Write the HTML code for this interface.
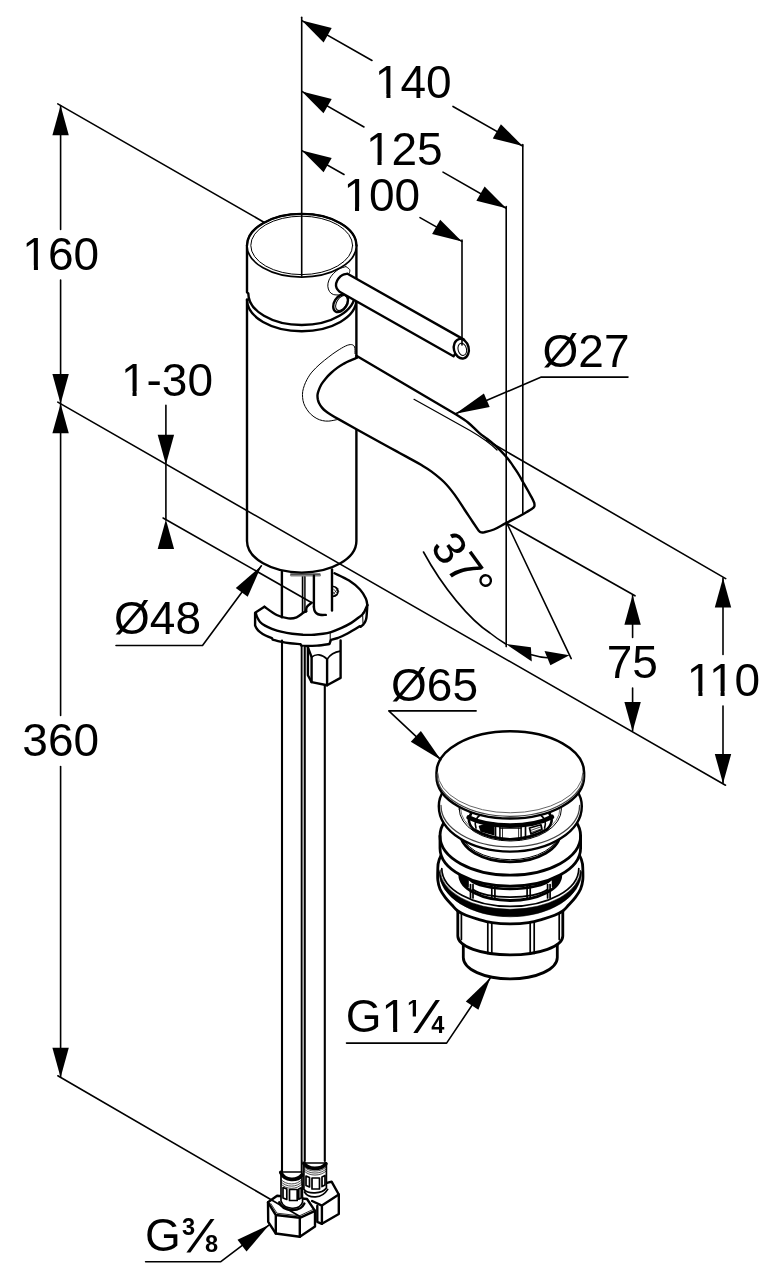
<!DOCTYPE html>
<html><head><meta charset="utf-8"><title>Drawing</title>
<style>html,body{margin:0;padding:0;background:#fff}svg{display:block;filter:grayscale(1)}text{font-family:"Liberation Sans",sans-serif;font-size:46px;fill:#000;stroke:none}</style>
</head><body>
<svg width="770" height="1274" viewBox="0 0 770 1274" fill="none" stroke="#000" stroke-linecap="round" stroke-linejoin="round">
<rect x="0" y="0" width="770" height="1274" fill="#fff" stroke="none"/>
<g id="faucet">
<path d="M247.0,299.6 L247.0,541 A54.7,31.6 0 0 0 356.4,541 L356.4,299.6 Z" stroke-width="2.4" fill="#fff" />
<path d="M247.0,299.6 A54.7,31.6 0 0 0 356.4,299.6" stroke-width="2.4" fill="none" />
<path d="M355.0,353.6 C354.9,352.5 355.2,348.5 354.6,347.0 C354.0,345.5 353.0,344.8 351.5,344.6 C350.0,344.4 348.0,344.9 345.6,346.0 C343.2,347.1 339.8,349.2 337.0,351.0 C334.2,352.8 331.6,354.7 328.8,356.9 C326.0,359.1 322.8,361.5 320.0,364.0 C317.2,366.5 314.1,369.5 311.9,372.1 C309.7,374.7 308.3,377.2 307.0,379.5 C305.7,381.8 305.0,383.6 304.3,385.6 C303.6,387.6 303.0,389.5 302.7,391.5 C302.4,393.5 302.4,395.5 302.6,397.5 C302.8,399.5 303.1,401.5 303.8,403.5 C304.5,405.5 305.6,407.4 306.8,409.3 C308.0,411.2 309.5,413.1 311.2,414.6 C312.9,416.2 315.0,417.6 316.9,418.6 C318.8,419.6 320.5,420.2 322.5,420.6 C324.5,421.0 326.2,421.3 328.8,421.1 C331.4,420.9 336.6,419.7 338.1,419.4 " stroke-width="1.0" fill="none" />
<path d="M356.4,355.8 L455.3,414 C457.4,415.4 464.0,419.3 468.0,422.5 C472.0,425.7 476.2,430.4 479.4,433.1 C482.6,435.8 484.6,436.9 487.0,438.8 C489.4,440.7 491.6,442.5 493.9,444.5 C496.1,446.5 498.4,448.5 500.5,450.6 C502.6,452.7 504.7,455.0 506.4,457.0 C508.1,459.0 509.4,460.7 510.8,462.6 C512.2,464.5 513.3,466.3 514.7,468.4 C516.1,470.5 517.6,472.7 519.0,475.0 C520.4,477.3 521.5,479.4 523.0,482.0 C524.5,484.6 526.5,488.0 528.0,490.8 C529.5,493.6 531.2,496.6 532.3,498.6 C533.3,500.6 534.0,502.3 534.3,503.0 C534.3,503.6 534.8,505.4 534.3,506.5 C533.8,507.6 533.2,508.0 531.3,509.3 C529.4,510.6 527.1,511.9 523.0,514.2 C518.9,516.5 511.2,520.4 506.4,522.9 C501.5,525.4 497.6,527.9 493.9,529.5 C490.2,531.1 486.2,531.8 484.0,532.3 C481.8,532.8 481.4,532.6 480.5,532.2 C479.6,531.9 478.7,530.5 478.3,530.2 C477.4,528.9 475.4,525.9 473.1,522.5 C470.9,519.1 467.9,514.7 464.8,510.0 C461.7,505.3 457.9,499.1 454.4,494.4 C450.9,489.7 447.8,485.8 444.0,482.0 C440.2,478.2 435.4,474.5 431.6,471.6 C427.8,468.7 424.5,466.9 421.0,464.8 C417.5,462.7 414.3,461.0 410.8,459.1 C407.3,457.2 403.5,455.1 400.0,453.2 C396.5,451.3 395.0,450.5 390.0,447.8 C385.0,445.1 378.5,441.5 370.0,436.8 C361.5,432.1 344.1,422.3 338.9,419.4 C337.5,418.6 332.7,415.8 330.5,414.4 C328.3,413.0 326.9,412.1 325.5,411.0 C324.1,409.9 323.1,408.9 322.0,407.6 C320.9,406.3 319.7,404.4 319.0,403.0 C318.3,401.6 318.1,400.5 317.8,399.2 C317.6,397.9 317.4,396.4 317.5,395.0 C317.6,393.6 318.0,392.4 318.6,390.7 C319.2,388.9 320.2,386.5 321.3,384.5 C322.4,382.5 323.8,380.8 325.4,378.9 C327.0,377.0 329.0,374.8 331.0,373.0 C333.0,371.2 335.0,369.5 337.2,367.9 C339.4,366.3 341.8,364.9 344.0,363.6 C346.2,362.3 348.5,361.3 350.7,360.3 C352.9,359.3 356.1,358.1 357.2,357.6 Z" stroke-width="2.4" fill="#fff" />
<path d="M414,399.3 L470,430.5 C482,437.5 490,443 497,450" stroke-width="1.25" fill="none" />
<path d="M247.0,245.5 L247.0,292.3 L248.3,293.4 A53.400000000000006,31.6 0 0 0 355.09999999999997,293.4 L356.4,292.3 L356.4,245.5 Z" stroke-width="2.4" fill="#fff" />
<ellipse cx="301.7" cy="245.5" rx="54.7" ry="31.6" stroke-width="1.7" fill="#fff"/>
<path d="M247.0,245.5 A54.7,31.6 0 0 1 356.4,245.5" stroke-width="2.4" fill="none" />
<ellipse cx="301.7" cy="245.4" rx="50.900000000000006" ry="29.200000000000003" stroke-width="1.0" fill="none"/>
<path d="M345.9,266.6 C346.5,267.1 349.0,268.4 349.6,269.5 C350.2,270.6 349.4,272.4 349.4,273.0 " stroke-width="1.0" fill="none" />
<path d="M345.9,266.6 C344.8,267.0 341.1,267.8 339.0,269.0 C336.9,270.2 335.0,271.9 333.3,273.7 C331.6,275.5 329.9,277.9 329.0,280.0 C328.1,282.1 327.7,284.3 327.8,286.2 C327.9,288.1 328.6,290.1 329.5,291.5 C330.4,292.9 331.6,293.9 333.3,294.5 C335.1,295.1 338.9,294.9 340.0,295.0 " stroke-width="1.0" fill="none" />
<ellipse cx="340.6" cy="303.3" rx="6.3" ry="9.6" stroke-width="2.4" fill="#fff" transform="rotate(32 340.6 303.3)"/>
<ellipse cx="341.6" cy="303.0" rx="4.9" ry="8.2" stroke-width="1.0" fill="none" transform="rotate(32 341.6 303.0)"/>
<path d="M347.5,273.7 L464,339.6 L453.5,356.3 L339.6,291.8 C339.1,291.2 337.2,289.4 336.6,288.0 C336.0,286.6 335.8,285.1 336.1,283.5 C336.4,281.9 337.4,279.9 338.5,278.5 C339.6,277.1 341.0,275.8 342.5,275.0 C344.0,274.2 346.7,273.9 347.5,273.7 Z" stroke-width="2.4" fill="#fff" />
<ellipse cx="461.3" cy="348.7" rx="7.4" ry="9.9" stroke-width="2.4" fill="#fff" transform="rotate(-14 461.3 348.7)"/>
<ellipse cx="462.3" cy="349.3" rx="4.2" ry="6.2" stroke-width="1.0" fill="none" transform="rotate(-14 462.3 349.3)"/>
</g>
<g id="under">
<line x1="281.9" y1="571.7" x2="281.9" y2="617.3" stroke-width="2.4" />
<line x1="302.6" y1="576.4" x2="302.6" y2="613" stroke-width="1.7" />
<line x1="304.8" y1="576.4" x2="304.8" y2="612" stroke-width="1.7" />
<line x1="303.7" y1="577" x2="303.7" y2="612" stroke="#999" stroke-width="1.2"/>
<line x1="291" y1="575.3" x2="320" y2="575.3" stroke="#888" stroke-width="2.2"/>
<line x1="290.7" y1="574.0" x2="320" y2="574.0" stroke-width="1.0" />
<line x1="313.9" y1="575.8" x2="313.9" y2="606.8" stroke-width="2.4" />
<line x1="332" y1="569.5" x2="332" y2="610.5" stroke-width="2.4" />
<path d="M332.8,586.5 C339,586 340.5,596 332.8,596.3" stroke-width="1.7" fill="none" />
<path d="M333.5,589 L337.5,593.5 M333.5,592.5 L336,595.5 M335,587.5 L338.8,591.5 M338,588.5 L333.5,594" stroke-width="0.7" fill="none" />
<path d="M264.4,606.8 L255.1,612.7 L255.1,625.4 C255.4,626.0 256.2,627.9 257.0,629.0 C257.8,630.1 258.7,631.0 260.1,632.1 C261.5,633.2 263.5,634.5 265.5,635.5 C267.5,636.5 270.8,637.7 271.9,638.1 L272.6,639.6 C273.9,639.9 277.5,641.0 280.4,641.6 C283.3,642.2 286.6,642.8 290.0,643.2 C293.4,643.6 298.8,644.0 300.6,644.2 L301.2,645.6 L305.7,645.9 C307.6,645.9 313.1,645.9 317.0,645.6 C320.9,645.3 327.3,644.3 329.4,644.0 L331,639.8 L337.8,638 C339.0,637.5 342.8,635.9 345.0,634.8 C347.2,633.7 348.9,632.7 351.3,631.3 C353.8,629.9 358.3,627.1 359.7,626.2 L360.6,626.8 L363.3,624.6 C363.7,624.0 365.0,622.3 365.5,621.0 C366.0,619.7 366.2,619.6 366.5,617.0 C366.8,614.4 367.2,607.1 367.3,605.1 " stroke-width="2.4" fill="none" />
<path d="M367.3,605.1 C367.1,604.0 367.0,601.2 365.8,598.6 C364.6,596.0 362.8,592.5 360.0,589.5 C357.2,586.5 353.4,583.2 349.1,580.5 C344.9,577.8 336.9,574.4 334.5,573.2 " stroke-width="2.4" fill="none" />
<path d="M255.9,613.4 C256.1,614.1 256.6,616.1 257.3,617.5 C258.0,618.9 258.8,620.6 260.1,622.0 C261.4,623.4 263.0,624.5 265.0,625.6 C267.0,626.7 269.2,627.8 271.9,628.8 C274.6,629.8 277.6,630.9 281.0,631.7 C284.4,632.5 288.5,633.3 292.2,633.8 C295.9,634.3 299.3,634.6 303.0,634.8 C306.7,634.9 310.9,634.9 314.2,634.7 C317.5,634.5 320.2,634.2 323.0,633.8 C325.8,633.4 328.0,633.0 331.0,632.1 C334.0,631.2 337.6,629.7 341.0,628.2 C344.4,626.7 348.5,624.6 351.3,622.9 C354.1,621.2 356.0,619.5 358.0,618.0 C360.0,616.5 361.6,615.8 363.1,613.6 C364.7,611.5 366.6,606.5 367.3,605.1 " stroke-width="2.4" fill="none" />
<path d="M264.5,606.8 C266.5,608.2 272.7,613.1 276.7,615.0 C280.7,616.9 285.1,618.0 288.4,618.4 C291.7,618.8 294.1,618.3 296.6,617.3 C299.1,616.3 302.0,613.6 303.6,612.6 C305.2,611.6 305.9,611.4 306.3,611.2 " stroke-width="2.4" fill="none" />
<path d="M306.0,611.4 C306.2,610.6 306.0,608.2 307.0,606.8 C308.0,605.3 311.0,603.4 311.8,602.7 " stroke-width="2.4" fill="none" />
<path d="M313.9,606.8 C314.0,607.4 314.1,609.4 314.5,610.5 C314.9,611.6 315.5,612.5 316.4,613.2 C317.3,613.9 318.4,614.5 320.0,614.8 C321.6,615.1 324.8,614.9 325.8,614.9 " stroke-width="2.4" fill="none" />
<line x1="330.2" y1="633" x2="330.2" y2="643" stroke-width="1.0" />
<line x1="362.6" y1="613" x2="363" y2="623.5" stroke-width="1.0" />
<path d="M307.9,647 L307.9,675.3 L311.6,682.1 L327.1,685.2 L340.6,677.9 L340.6,640.5" stroke-width="2.4" fill="none" />
<path d="M307.9,647.3 L311.6,657.1 L311.6,682.1 M327.1,659.2 L327.1,685.2" stroke-width="2.4" fill="none" />
<path d="M311.6,657.1 C316,653.5 322,654 327.1,659.2 C330,655 335,652 340.2,651.2" stroke-width="1.7" fill="none" />
<line x1="282" y1="640.5" x2="282" y2="1172" stroke-width="2.1" />
<line x1="301.7" y1="645.5" x2="301.7" y2="1172" stroke-width="2.0" />
<line x1="304.8" y1="646.5" x2="304.8" y2="1161" stroke-width="2.0" />
<line x1="303.25" y1="647" x2="303.25" y2="1160" stroke="#aaa" stroke-width="1.2"/>
<line x1="324.8" y1="685" x2="324.8" y2="1161" stroke-width="2.1" />
</g>
<g id="bottom">
<path d="M327,1182.9 L331.6,1181.6 L338.8,1194.5 L338.8,1214 L321.9,1223.8 L317.3,1221.8 L317.3,1206" stroke-width="2.4" fill="#fff" />
<path d="M338.8,1194.5 L321.9,1205.6 L312.1,1201 M321.9,1205.6 L321.9,1223.8" stroke-width="2.4" fill="none" />
<path d="M303.9,1163 L303.9,1189.4 C308,1194.5 322,1194 326.4,1188 L326.4,1163 Z" stroke-width="1.7" fill="#fff" />
<path d="M303.9,1163.3 C308,1170 321,1170 325.8,1163.8" stroke-width="3.8" fill="none" />
<path d="M304.2,1167 C309,1172.5 321,1172.5 326,1167 M304.2,1169 C309,1174.5 321,1174.5 326,1169 M304.2,1171 C309,1176.5 321,1176.5 326,1171" stroke-width="0.7" fill="none" />
<path d="M306,1176 L309.5,1177.5 L309.5,1187 L306,1185.5 Z M312,1178 L319.5,1178 L319.5,1189 L312,1189 Z M322,1177 L325,1175.5 L325,1185 L322,1186.5 Z" stroke-width="1.7" fill="none" />
<path d="M304.4,1192 C309,1199 322,1199 327.7,1189.4" stroke-width="1.7" fill="none" />
<path d="M268,1202.3 L277.1,1195.8 L307,1199 L315,1210.8 L315,1226.4 L299.8,1236.8 L275.8,1233.5 L268.2,1221.8 Z" stroke-width="2.4" fill="#fff" />
<path d="M268,1202.3 L275.8,1215 L299.8,1217.8 L315,1210.8 M275.8,1215 L275.8,1233.5 M299.8,1217.8 L299.8,1236.8" stroke-width="2.4" fill="none" />
<path d="M270.8,1203.6 L277,1213.2 L299.5,1215.8 L312.8,1209.6" stroke-width="0.8" fill="none" />
<path d="M281,1172 L281,1201 C284,1210 300,1211 302.6,1202 L301.8,1172 Z" stroke-width="1.7" fill="#fff" />
<path d="M279.2,1202.3 C283,1212 300,1213 304.4,1203.6" stroke-width="2.4" fill="none" />
<path d="M280.8,1172.5 C285,1181.3 297,1181.3 302,1175" stroke-width="3.8" fill="none" />
<path d="M281,1179.5 C286,1185.5 297,1185.5 302,1179.5 M281,1181.7 C286,1187.7 297,1187.7 302,1181.7 M281,1183.9 C286,1189.9 297,1189.9 302,1183.9" stroke-width="0.7" fill="none" />
<path d="M283,1187.5 L286.8,1189 L286.8,1199.5 L283,1198 Z M289.5,1189.5 L297.2,1189.5 L297.2,1200.5 L289.5,1200.5 Z M298.8,1189 L301.2,1187.8 L301.2,1198 L298.8,1199.2 Z" stroke-width="1.7" fill="none" />
</g>
<g id="drain">
<path d="M463.3,938 L463.3,957.5 A47,21.4 0 0 0 557.3,957.5 L557.3,938 A47,21.4 0 0 0 463.3,938 Z" stroke-width="2.8" fill="#fff" />
<path d="M457.8,905 L457.8,935.9 A52.5,19 0 0 0 562.8,935.9 L562.8,905 A52.5,19 0 0 0 457.8,905 Z" stroke-width="2.8" fill="#fff" />
<line x1="487.8" y1="922.3" x2="487.8" y2="953.4" stroke-width="1.7" />
<line x1="491.8" y1="922.3" x2="491.8" y2="953.4" stroke-width="1.7" />
<line x1="530.2" y1="922.3" x2="530.2" y2="953.4" stroke-width="1.7" />
<line x1="534.2" y1="922.3" x2="534.2" y2="953.4" stroke-width="1.7" />
<line x1="461.4" y1="912" x2="461.4" y2="939.5" stroke-width="1.7" />
<line x1="559.2" y1="912" x2="559.2" y2="939.5" stroke-width="1.7" />
<path d="M437.8,868.0 C437.8,870.0 437.4,876.5 437.8,880.0 C438.2,883.5 438.8,886.1 440.0,889.0 C441.2,891.9 443.2,894.7 445.2,897.4 C447.2,900.1 449.9,902.7 452.0,905.0 C454.1,907.3 455.5,909.3 457.8,911.0 C460.1,912.7 462.8,914.0 466.0,915.3 C469.2,916.6 472.5,917.7 476.8,918.9 C481.1,920.1 486.4,921.8 492.0,922.6 C497.6,923.4 504.2,923.8 510.3,923.8 C516.4,923.8 523.0,923.4 528.6,922.6 C534.2,921.8 539.5,920.1 543.8,918.9 C548.1,917.7 551.4,916.6 554.6,915.3 C557.8,914.0 560.5,912.7 562.8,911.0 C565.1,909.3 566.5,907.3 568.6,905.0 C570.7,902.7 573.4,900.1 575.4,897.4 C577.4,894.7 579.4,891.9 580.6,889.0 C581.8,886.1 582.4,883.5 582.8,880.0 C583.2,876.5 582.8,870.0 582.8,868.0 A72.5,41 0 0 0 437.8,868 Z" stroke-width="2.8" fill="#fff" />
<path d="M439.0,872 A71.3,44.9 0 0 0 581.6,872 L580.3,870 A70,39.3 0 0 1 440.3,870 Z" stroke-width="0.5" fill="#000" />
<path d="M441.8,868.5 A68.5,38.0 0 0 0 578.8,868.5" stroke-width="1.7" fill="none" />
<path d="M459.8,875 A50.5,25.5 0 0 0 560.8,875 A50.5,25.5 0 0 0 459.8,875 Z" stroke-width="2.8" fill="#fff" />
<path d="M470,879.5 A42,13 0 0 0 550.6,879.5" stroke-width="2.8" fill="none" />
<path d="M473,889.5 A40,12 0 0 0 547.6,889.5" stroke-width="1.7" fill="none" />
<line x1="470.5" y1="884.5" x2="470.5" y2="898" stroke-width="1.7" />
<line x1="473" y1="884.5" x2="473" y2="898" stroke-width="1.7" />
<line x1="491.8" y1="884.5" x2="491.8" y2="898" stroke-width="1.7" />
<line x1="494.9" y1="884.5" x2="494.9" y2="898" stroke-width="1.7" />
<line x1="527.1" y1="884.5" x2="527.1" y2="898" stroke-width="1.7" />
<line x1="530.2" y1="884.5" x2="530.2" y2="898" stroke-width="1.7" />
<line x1="547.6" y1="884.5" x2="547.6" y2="898" stroke-width="1.7" />
<line x1="550.1" y1="884.5" x2="550.1" y2="898" stroke-width="1.7" />
<path d="M459.9,875 C461,880 464,884 468,886.5 L468,880 Z" stroke-width="1.7" fill="#000" />
<path d="M560.7,875 C559.6,880 556.6,884 552.6,886.5 L552.6,880 Z" stroke-width="1.7" fill="#000" />
<path d="M440.0,836 L440.0,848.2 A70.3,38 0 0 0 580.6,848.2 L580.6,836 A70.3,39.2 0 0 0 440.0,836 Z" stroke-width="2.8" fill="#fff" />
<path d="M440.0,836 A70.3,39.2 0 0 0 580.6,836" stroke-width="2.8" fill="none" />
<path d="M460.3,832.5 A50,29.3 0 0 0 560.3,832.5 Z" stroke-width="2.8" fill="#fff" />
<path d="M461.3,831.4 A49,28.3 0 0 0 559.3,831.4" stroke-width="1.0" fill="none" />
<path d="M438.8,806.2 A71.5,45.4 0 0 0 581.8,806.2 A71.5,42 0 0 0 438.8,806.2 Z" stroke-width="2.4" fill="#fff" />
<path d="M441.0,805.5 A69.3,41.4 0 0 0 579.6,805.5" stroke-width="1.3" fill="none" stroke="#444"/>
<path d="M459.2,809 A51.1,32 0 0 0 561.4,809 A51.1,29.8 0 0 0 459.2,809 Z" stroke-width="1.0" fill="#fff" />
<path d="M460.7,809 A49.6,30.3 0 0 0 559.9,809" stroke-width="1.0" fill="none" stroke="#777"/>
<path d="M471,813.7 C467.5,819 469,825 473.4,829.3 C482,834.5 496,839 510.3,839.4 C524.6,839 538.6,834.5 547.2,829.3 C551.6,825 553.1,819 549.6,813.7" stroke-width="2.8" fill="none" />
<path d="M476,828 C474,823 476,818 480,815" stroke-width="1.7" fill="none" />
<path d="M544.6,828 C546.6,823 544.6,818 540.6,815" stroke-width="1.7" fill="none" />
<line x1="499.9" y1="826" x2="499.9" y2="839" stroke-width="1.5" />
<line x1="521.1" y1="826" x2="521.1" y2="839" stroke-width="1.5" />
<line x1="495.5" y1="826" x2="495.5" y2="838.4" stroke-width="1.7" />
<line x1="525.5" y1="826" x2="525.5" y2="838.4" stroke-width="1.7" />
<line x1="502.5" y1="828" x2="502.5" y2="839" stroke-width="0.8" />
<line x1="518.6" y1="828" x2="518.6" y2="839" stroke-width="0.8" />
<line x1="500" y1="828.2" x2="521" y2="828.2" stroke-width="1.2" />
<path d="M479.6,826.4 L493.6,823 L493.6,834.5 L481.2,831 Z" stroke-width="1.7" fill="#000" />
<path d="M529.5,828 L541,824.8 L542,829.5 L531,834 Z" stroke-width="1.7" fill="none" />
<path d="M530.5,830.5 L541,826.8 M531,832.5 L541.5,828.8" stroke-width="0.7" fill="none" />
<path d="M468.7,817.5 C480,823.2 496,825.6 510.3,825.6 C524.6,825.6 540,823.2 551.9,817" stroke-width="4.6" fill="none" />
<path d="M436.5,772.5 L436.5,776.5 A73.8,42.1 0 0 0 584.1,776.5 L584.1,772.5 A73.8,41.3 0 0 0 436.5,772.5 Z" stroke-width="2.5" fill="#fff" />
<path d="M437.7,772.8 A72.6,40 0 0 0 582.9,772.8" stroke-width="1.0" fill="none" stroke="#666"/>
<path d="M437.1,774.5 A73.2,41.8 0 0 0 583.5,774.5" stroke-width="1.2" fill="none" stroke="#444"/>
</g>
<g id="dims">
<line x1="301.7" y1="17.2" x2="301.7" y2="276" stroke-width="1.6" />
<line x1="301.9" y1="20.6" x2="372" y2="60.43026733121886" stroke-width="1.6" />
<line x1="453" y1="106.45382872677843" x2="522.6" y2="146" stroke-width="1.6" />
<polygon points="301.9,20.6 323.6,42.4 331.7,28.1" fill="#000" stroke="none"/>
<polygon points="522.6,146.0 500.9,124.2 492.8,138.5" fill="#000" stroke="none"/>
<text class="d" x="413.2" y="98.3" text-anchor="middle" >140</text>
<line x1="301.9" y1="91.4" x2="364" y2="126.93348017621148" stroke-width="1.6" />
<line x1="443" y1="172.13710230053846" x2="506.2" y2="208.3" stroke-width="1.6" />
<polygon points="301.9,91.4 323.5,113.2 331.7,99.0" fill="#000" stroke="none"/>
<polygon points="506.2,208.3 484.6,186.5 476.4,200.7" fill="#000" stroke="none"/>
<text class="d" x="404.3" y="165.2" text-anchor="middle" >125</text>
<line x1="301.9" y1="150.6" x2="344" y2="174.49175000000002" stroke-width="1.6" />
<line x1="420" y1="217.62175000000002" x2="461.9" y2="241.4" stroke-width="1.6" />
<polygon points="301.9,150.6 323.6,172.3 331.7,158.1" fill="#000" stroke="none"/>
<polygon points="461.9,241.4 440.2,219.7 432.1,233.9" fill="#000" stroke="none"/>
<text class="d" x="381.8" y="211.1" text-anchor="middle" >100</text>
<line x1="522.8" y1="144.5" x2="522.8" y2="514" stroke-width="1.6" />
<line x1="506.2" y1="206.5" x2="506.2" y2="646.6" stroke-width="1.6" />
<line x1="462" y1="240" x2="462" y2="345" stroke-width="1.6" />
<line x1="60.6" y1="105.5" x2="60.6" y2="229.5" stroke-width="1.6" />
<line x1="60.6" y1="280" x2="60.6" y2="715.5" stroke-width="1.6" />
<line x1="60.6" y1="766.5" x2="60.6" y2="1077" stroke-width="1.6" />
<polygon points="60.6,105.6 52.4,135.2 68.8,135.2" fill="#000" stroke="none"/>
<polygon points="60.6,403.7 68.8,374.1 52.4,374.1" fill="#000" stroke="none"/>
<polygon points="60.6,403.7 52.4,433.3 68.8,433.3" fill="#000" stroke="none"/>
<polygon points="60.6,1077.4 68.8,1047.8 52.4,1047.8" fill="#000" stroke="none"/>
<text class="d" x="60.7" y="269.8" text-anchor="middle" >160</text>
<text class="d" x="60.7" y="756" text-anchor="middle" >360</text>
<line x1="57.8" y1="103.9" x2="263.5" y2="222" stroke-width="1.6" />
<line x1="57.8" y1="402.1" x2="725.5" y2="785.2" stroke-width="1.6" />
<line x1="57.8" y1="1075.8" x2="300" y2="1216.5" stroke-width="1.6" />
<text class="d" x="167" y="395.5" text-anchor="middle" >1-30</text>
<line x1="165.9" y1="405.4" x2="165.9" y2="520" stroke-width="1.6" />
<polygon points="165.9,464.4 174.1,434.8 157.7,434.8" fill="#000" stroke="none"/>
<polygon points="165.9,519.5 157.7,549.1 174.1,549.1" fill="#000" stroke="none"/>
<line x1="163.1" y1="518" x2="311.8" y2="602.7" stroke-width="1.6" />
<text class="d" x="157.5" y="633.5" text-anchor="middle" >Ø48</text>
<path d="M116,645.5 L202.5,645.5 L261.4,565.8" stroke-width="1.6" fill="none" />
<polygon points="261.4,565.8 235.8,587.9 247.7,596.7" fill="#000" stroke="none"/>
<text class="d" x="586" y="367" text-anchor="middle" >Ø27</text>
<path d="M628,377.1 L541.3,377.1 L455.5,413.7" stroke-width="1.6" fill="none" />
<polygon points="455.5,413.7 489.7,407.1 483.9,393.5" fill="#000" stroke="none"/>
<line x1="486.5" y1="440" x2="725.7" y2="578.6" stroke-width="1.6" />
<line x1="507" y1="523.4" x2="635" y2="595.8" stroke-width="1.6" />
<line x1="723" y1="578" x2="723" y2="654.5" stroke-width="1.6" />
<line x1="723" y1="706" x2="723" y2="783" stroke-width="1.6" />
<polygon points="723.0,577.9 714.8,607.5 731.2,607.5" fill="#000" stroke="none"/>
<polygon points="723.0,783.6 731.2,754.0 714.8,754.0" fill="#000" stroke="none"/>
<text class="d" x="723.5" y="695.5" text-anchor="middle" >110</text>
<line x1="632.6" y1="595.5" x2="632.6" y2="637.5" stroke-width="1.6" />
<line x1="632.6" y1="688" x2="632.6" y2="731" stroke-width="1.6" />
<polygon points="632.6,595.1 624.4,624.7 640.8,624.7" fill="#000" stroke="none"/>
<polygon points="632.6,731.6 640.8,702.0 624.4,702.0" fill="#000" stroke="none"/>
<text class="d" x="632.3" y="677.5" text-anchor="middle" >75</text>
<line x1="507" y1="523.4" x2="571.2" y2="658.6" stroke-width="1.6" />
<path d="M423.5,552 C443,588 470,620 490,633 C495,637 500,640.5 505.8,644 M531.5,654.8 C537,656.5 542,657.5 547.3,657.8" stroke-width="1.6" fill="none" />
<polygon points="505.6,643.8 530.9,647.3 531.8,661.6" fill="#000" stroke="none"/>
<polygon points="569.4,655.3 544.5,650.9 550.4,665.2" fill="#000" stroke="none"/>
<text transform="translate(459.5,568) rotate(54)" x="0" y="12" text-anchor="middle">37°</text>
<text class="d" x="434.5" y="700.5" text-anchor="middle" >Ø65</text>
<path d="M476.1,710.9 L388.8,710.9 L440.8,759.6" stroke-width="1.6" fill="none" />
<polygon points="441.0,759.9 420.9,730.9 410.8,741.7" fill="#000" stroke="none"/>
<text class="d" x="345.8" y="1032.3" text-anchor="start" >G1</text>
<polygon points="412.73,1016.40 412.73,1002.86 408.82,1005.31 408.82,1002.75 412.90,1000.10 415.98,1000.10 415.98,1016.40" fill="#000" stroke="none"/>
<polygon points="413.3,1032.9 417.6,1032.9 439.9,1000.1 435.6,1000.1" fill="#000" stroke="none"/>
<text x="437.9" y="1033.3" text-anchor="middle" style="font-size:23.6px;font-weight:bold">4</text>
<path d="M346.5,1043.1 L446.6,1043.1 L490.1,978.3" stroke-width="1.6" fill="none" />
<polygon points="490.4,977.8 465.8,1001.5 478.4,1009.7" fill="#000" stroke="none"/>
<text class="d" x="145" y="1251" text-anchor="start" >G</text>
<text x="188.6" y="1235.4" text-anchor="middle" style="font-size:23.6px;font-weight:bold">3</text>
<polygon points="186.4,1252.6 190.4,1252.6 214.5,1218.9 210.5,1218.9" fill="#000" stroke="none"/>
<text x="211.6" y="1252.3" text-anchor="middle" style="font-size:23.6px;font-weight:bold">8</text>
<path d="M145.6,1261.8 L220.5,1261.8 L268.9,1225.1" stroke-width="1.6" fill="none" />
<polygon points="269.3,1224.8 237.5,1239.7 246.5,1251.5" fill="#000" stroke="none"/>
</g>
<g id="footfix">
<rect x="376.83" y="93.96" width="9.56" height="5.74" fill="#fff" stroke="none"/>
<rect x="390.46" y="93.96" width="9.20" height="5.74" fill="#fff" stroke="none"/>
<rect x="367.93" y="160.86" width="9.56" height="5.74" fill="#fff" stroke="none"/>
<rect x="381.56" y="160.86" width="9.20" height="5.74" fill="#fff" stroke="none"/>
<rect x="345.43" y="206.76" width="9.56" height="5.74" fill="#fff" stroke="none"/>
<rect x="359.06" y="206.76" width="9.20" height="5.74" fill="#fff" stroke="none"/>
<rect x="24.33" y="265.46" width="9.56" height="5.74" fill="#fff" stroke="none"/>
<rect x="37.96" y="265.46" width="9.20" height="5.74" fill="#fff" stroke="none"/>
<rect x="122.96" y="391.16" width="9.56" height="5.74" fill="#fff" stroke="none"/>
<rect x="136.59" y="391.16" width="9.20" height="5.74" fill="#fff" stroke="none"/>
<rect x="688.83" y="691.16" width="9.56" height="5.74" fill="#fff" stroke="none"/>
<rect x="702.46" y="691.16" width="9.20" height="5.74" fill="#fff" stroke="none"/>
<rect x="710.99" y="691.16" width="9.56" height="5.74" fill="#fff" stroke="none"/>
<rect x="724.62" y="691.16" width="9.20" height="5.74" fill="#fff" stroke="none"/>
<rect x="383.57" y="1027.96" width="9.56" height="5.74" fill="#fff" stroke="none"/>
<rect x="397.20" y="1027.96" width="9.20" height="5.74" fill="#fff" stroke="none"/>
</g>
</svg>
</body></html>
